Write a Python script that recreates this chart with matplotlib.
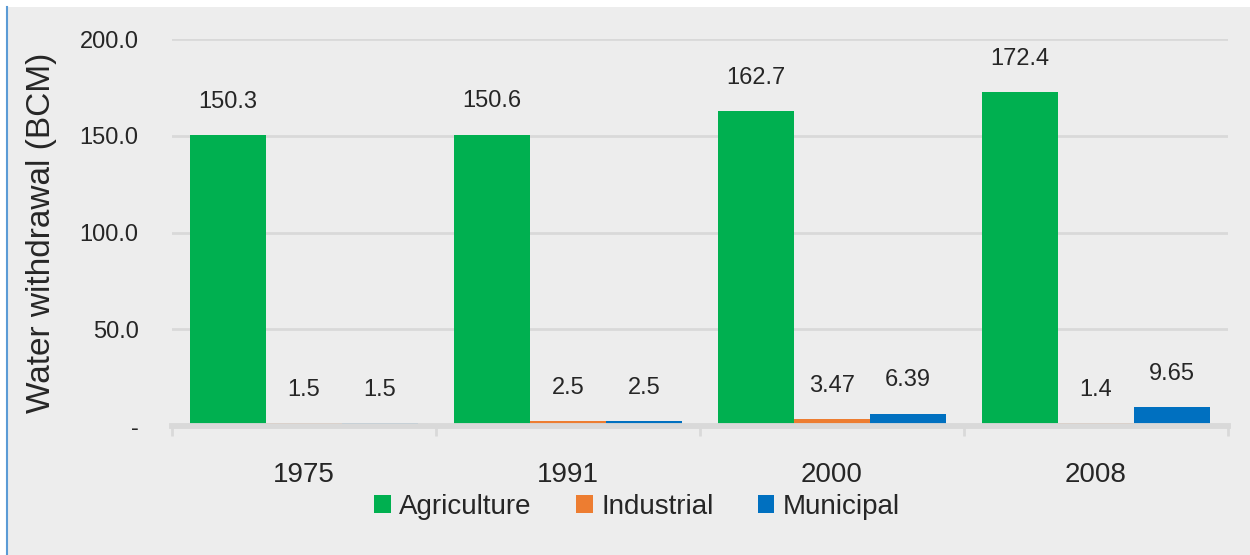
"""Water withdrawal by sector, grouped bars."""
import matplotlib.pyplot as plt
import numpy as np

YEARS = ["1975", "1991", "2000", "2008"]
SECTORS = ["Agriculture", "Industrial", "Municipal"]
AGRICULTURE = [150.3, 150.6, 162.7, 172.4]
INDUSTRIAL = [1.5, 2.5, 3.47, 1.4]
MUNICIPAL = [1.5, 2.5, 6.39, 9.65]
LABELS = [
    ["150.3", "150.6", "162.7", "172.4"],
    ["1.5", "2.5", "3.47", "1.4"],
    ["1.5", "2.5", "6.39", "9.65"],
]
Y_TICKS = [0, 50, 100, 150, 200]
Y_TICK_LABELS = ["-", "50.0", "100.0", "150.0", "200.0"]

COLORS = ["#00B050", "#ED7D31", "#0070C0"]
BG = "#EDEDED"
GRID = "#D9D9D9"

plt.rcParams["font.family"] = ["Liberation Sans Narrow", "Liberation Sans"]

fig = plt.figure(figsize=(12.5, 5.55), dpi=100)
fig.patch.set_facecolor("white")
fig.patches.append(plt.Rectangle((7 / 1250, 0), 1, 1 - 7 / 555, transform=fig.transFigure,
                                 facecolor=BG, edgecolor="none", zorder=-5))
fig.lines.append(plt.Line2D([7 / 1250, 7 / 1250], [0, 1 - 7 / 555], transform=fig.transFigure,
                            color="#5B9BD5", lw=1.5, zorder=-4))

ax = fig.add_axes([172 / 1250, 129 / 555, 1056 / 1250, 387 / 555])
ax.set_facecolor("none")

x = np.arange(len(YEARS))
w = 0.288
for j, (vals, color) in enumerate(zip([AGRICULTURE, INDUSTRIAL, MUNICIPAL], COLORS)):
    pos = x + (j - 1) * w
    ax.bar(pos, vals, width=w, color=color, label=SECTORS[j], zorder=2)
    for px, v, lab in zip(pos, vals, LABELS[j]):
        ax.annotate(lab, (px, v), xytext=(0, 24), textcoords="offset points",
                    ha="center", va="center", fontsize=17, color="#262626")

ax.set_xlim(-0.5, len(YEARS) - 0.5)
ax.set_ylim(0, 200)
ax.set_yticks(Y_TICKS, Y_TICK_LABELS, fontsize=17, color="#262626")
ax.tick_params(axis="y", length=0, pad=24)
ax.set_xticks(x, YEARS, fontsize=20, color="#262626")
ax.set_xticks(np.arange(len(YEARS) + 1) - 0.5, minor=True)
ax.tick_params(axis="x", which="major", length=0, pad=26)
ax.tick_params(axis="x", which="minor", length=7, width=2, color=GRID)

for y in Y_TICKS[1:]:
    ax.axhline(y, color=GRID, lw=2, zorder=1)
# thick base line hides the thinnest bars, as in the source chart
ax.axhline(0, color=GRID, lw=4.2, zorder=3, clip_on=False)
for s in ax.spines.values():
    s.set_visible(False)

ax.set_ylabel("Water withdrawal (BCM)", fontsize=24, color="#262626", labelpad=16)

fig.legend(loc="center", bbox_to_anchor=(637 / 1250, 1 - 507 / 555), ncol=3, frameon=False,
           fontsize=20, handlelength=0.6, handleheight=0.6, handletextpad=0.3,
           columnspacing=1.6, labelcolor="#262626")

fig.savefig("out.png", dpi=100, facecolor=fig.get_facecolor())
